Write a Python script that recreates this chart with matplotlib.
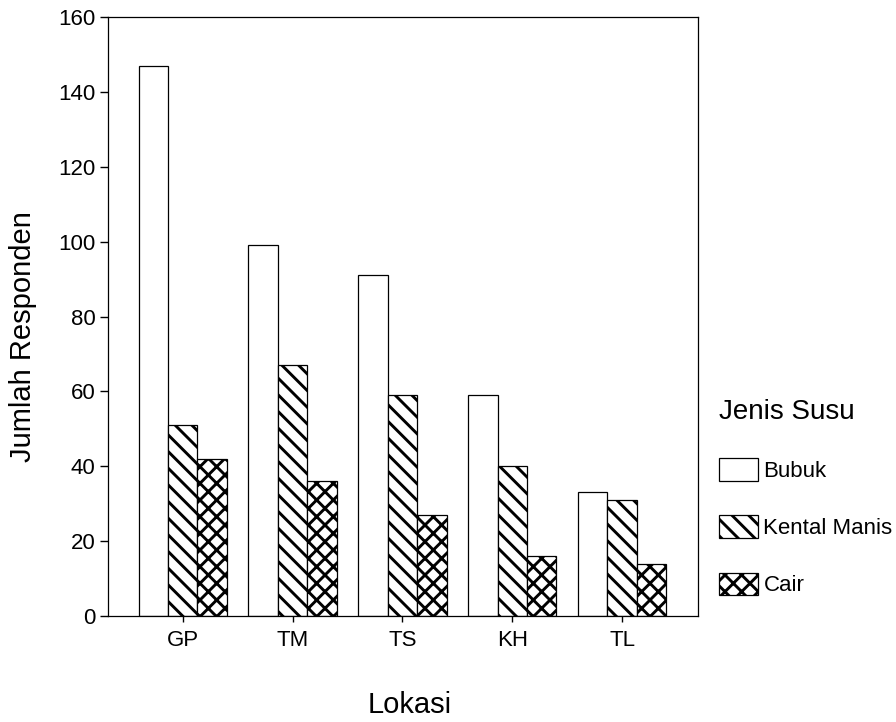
import numpy as np
import matplotlib
matplotlib.use('Agg')
import matplotlib.pyplot as plt

plt.rcParams['font.family'] = ['Liberation Sans', 'DejaVu Sans']
plt.rcParams['hatch.linewidth'] = 2.1

lokasi = ['GP', 'TM', 'TS', 'KH', 'TL']
jenis = ['Bubuk', 'Kental Manis', 'Cair']
bubuk = [147, 99, 91, 59, 33]
kental_manis = [51, 67, 59, 40, 31]
cair = [42, 36, 27, 16, 14]

hatches = ['', '\\\\', 'xx']
width = 0.268

fig = plt.figure(figsize=(8.96, 7.22), dpi=100)
ax = fig.add_axes([0.1205, 0.1468, 0.6585, 0.8296])

x = np.arange(len(lokasi))
handles = []
for i, (vals, h) in enumerate(zip([bubuk, kental_manis, cair], hatches)):
    b = ax.bar(x + (i - 1) * width, vals, width, facecolor='white',
               edgecolor='black', linewidth=0.9, hatch=h, label=jenis[i])
    handles.append(b)

ax.set_xlim(-0.68, 4.69)
ax.set_ylim(0, 160)
ax.set_yticks(range(0, 161, 20))
ax.set_xticks(x)
ax.set_xticklabels(lokasi)
ax.tick_params(axis='y', labelsize=16, length=6, width=1, pad=3)
ax.tick_params(axis='x', labelsize=16, length=4, width=1, pad=6)
for s in ax.spines.values():
    s.set_linewidth(0.9)

ax.set_ylabel('Jumlah Responden', fontsize=21)
ax.yaxis.label.set_va('center')
ax.yaxis.set_label_coords(-0.144, 0.467)
ax.set_xlabel('Lokasi', fontsize=21)
ax.xaxis.label.set_va('center')
ax.xaxis.set_label_coords(0.512, -0.149)

ax.legend(handles=handles, loc='upper left', bbox_to_anchor=(0.790, 0.463),
          bbox_transform=fig.transFigure, frameon=False, title='Jenis Susu',
          title_fontsize=20, fontsize=16, handlelength=1.75, handleheight=1.2,
          handletextpad=0.25, labelspacing=1.5, alignment='left', borderpad=0)

fig.savefig('out.png', dpi=100)
